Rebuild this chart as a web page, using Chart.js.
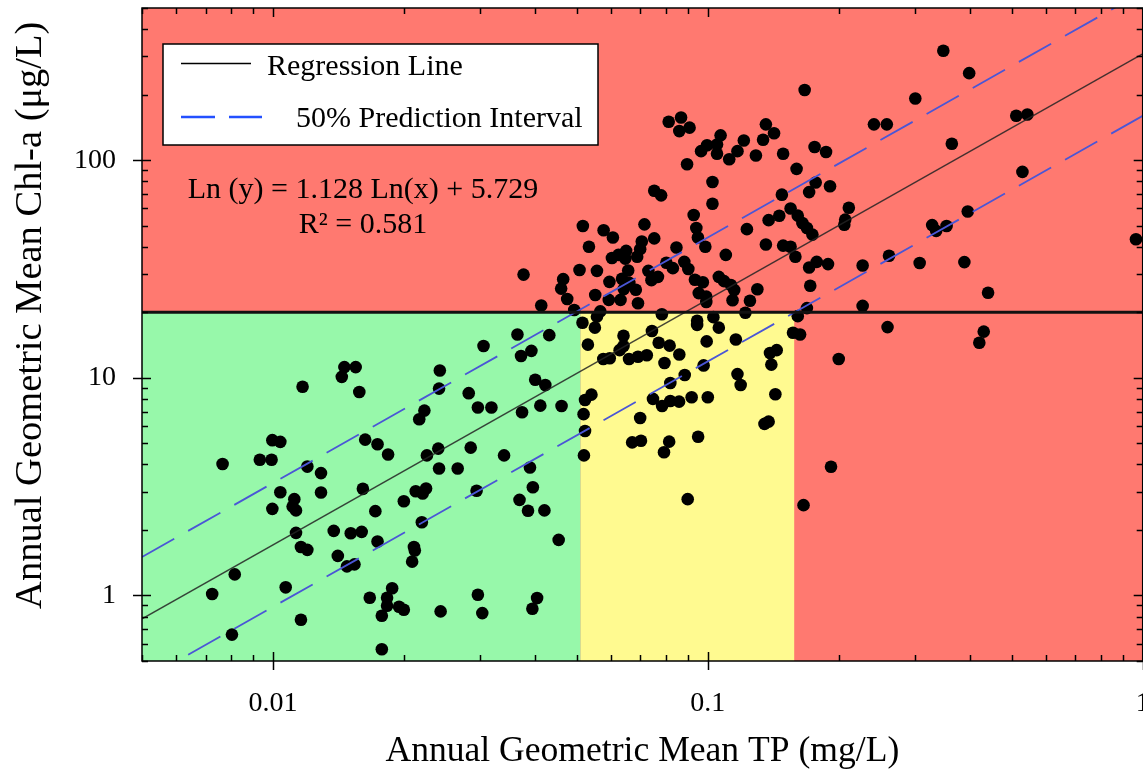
<!DOCTYPE html>
<html>
<head>
<meta charset="utf-8">
<script src="https://cdn.jsdelivr.net/npm/chart.js@4.4.1/dist/chart.umd.min.js"></script>
<style>
  html, body { margin: 0; padding: 0; background: #fff; overflow: hidden; }
  #wrap { width: 1143px; height: 774px; overflow: hidden; }
</style>
</head>
<body>
<div id="wrap"><canvas id="chart" width="1149" height="774"></canvas></div>
<script>
// axis ranges and labelled ticks
const X_MIN = 0.005, X_MAX = 1;
const Y_MIN = 0.5, Y_MAX = 500;
const xTickValues = [0.01, 0.1, 1];
const yTickValues = [1, 10, 100];

// zone limits (TP mg/L, Chl-a ug/L)
const TP_GREEN_MAX = 0.051;
const TP_YELLOW_MAX = 0.158;
const CHL_LIMIT = 20;

// regression: ln(y) = SLOPE ln(x) + INTERCEPT, half width of 50% PI in ln units
const SLOPE = 1.128, INTERCEPT = 5.729, R2 = 0.581;
const PI_HALF = 0.655;

// observations, below 20 ug/L and TP < 0.05
const lowTP = [0.0146, 0.0155, 0.0144, 0.0117, 0.0158, 0.0163, 0.0174, 0.00997, 0.0104, 0.0184,
  0.00766, 0.00933, 0.00993, 0.0120, 0.0129, 0.0104, 0.0129, 0.0161, 0.0112, 0.00997,
  0.0111, 0.0113, 0.0172, 0.0200, 0.0113, 0.0138, 0.0151, 0.0160, 0.0174, 0.0116,
  0.0120, 0.0141, 0.0148, 0.0154, 0.00817, 0.00725, 0.0107, 0.0188, 0.0167, 0.0183,
  0.0183, 0.0195, 0.0178, 0.0116, 0.00805, 0.0178, 0.0200, 0.0243, 0.0296, 0.0303,
  0.0405, 0.0395, 0.0365, 0.0432, 0.0305, 0.0372, 0.0393, 0.0242, 0.0401, 0.0423,
  0.0241, 0.0282, 0.0296, 0.0318, 0.0374, 0.0412, 0.0461, 0.0223, 0.0217, 0.0240,
  0.0226, 0.0285, 0.0340, 0.0241, 0.0266, 0.0390, 0.0396, 0.0213, 0.0225, 0.0221,
  0.0294, 0.0369, 0.0386, 0.0421, 0.0220, 0.0454, 0.0211, 0.0212, 0.0209];
const lowChl = [11.2, 11.2, 10.1, 9.1, 8.6, 5.2, 4.95, 5.17, 5.08, 4.44,
  4.02, 4.2, 4.2, 3.91, 3.65, 2.98, 2.97, 3.09, 2.77, 2.5,
  2.56, 2.46, 2.44, 2.71, 1.94, 1.98, 1.93, 1.96, 1.77, 1.67,
  1.62, 1.52, 1.36, 1.39, 1.25, 1.015, 1.09, 1.08, 0.976, 0.976,
  0.897, 0.888, 0.807, 0.774, 0.661, 0.566, 0.86, 0.845, 1.007, 0.83,
  0.973, 0.869, 15.8, 15.7, 14.0, 12.6, 13.3, 10.8, 9.8, 9.27,
  8.92, 8.5, 7.3, 7.3, 6.95, 7.45, 7.42, 7.07, 6.45, 4.73,
  4.40, 4.78, 4.40, 3.83, 3.83, 3.87, 3.14, 3.01, 3.10, 2.94,
  3.03, 2.75, 2.45, 2.46, 2.17, 1.80, 1.67, 1.61, 1.43];

// observations, below 20 ug/L and TP from 0.05 up
const midTP = [0.0515, 0.0530, 0.0522, 0.0518, 0.0522, 0.0519, 0.0540, 0.0556, 0.0784, 0.0945,
  0.0945, 0.103, 0.122, 0.161, 0.0550, 0.106, 0.157, 0.163, 0.0640, 0.0744,
  0.0771, 0.0817, 0.0994, 0.116, 0.0640, 0.0627, 0.0860, 0.0575, 0.0595, 0.0659,
  0.0691, 0.0724, 0.0795, 0.139, 0.144, 0.140, 0.0978, 0.0885, 0.0820, 0.117,
  0.119, 0.0748, 0.0785, 0.0820, 0.0859, 0.0918, 0.100, 0.143, 0.0699, 0.135,
  0.138, 0.0950, 0.0670, 0.0702, 0.0815, 0.0793, 0.0899, 0.166,
  0.259, 0.431, 0.421, 0.200, 0.192];
const midChl = [17.9, 14.2, 7.91, 6.81, 5.70, 4.40, 8.37, 19.1, 19.6, 18.3,
  17.5, 19.0, 19.9, 19.2, 17.0, 17.0, 16.1, 15.8, 15.6, 16.4,
  14.5, 14.05, 14.7, 15.0, 14.0, 13.4, 12.8, 12.2, 12.3, 12.2,
  12.5, 12.7, 11.7, 13.0, 13.4, 11.5, 11.4, 10.3, 9.47, 10.4,
  9.27, 8.0, 7.42, 7.83, 7.77, 8.14, 8.14, 8.40, 6.54, 6.14,
  6.29, 5.36, 5.05, 5.14, 5.09, 4.55, 2.77, 2.60,
  17.1, 16.3, 14.5, 12.2, 3.90];

// observations above 20 ug/L
const highTP = [0.0493, 0.0566, 0.0414, 0.0475, 0.0592, 0.0630, 0.0691, 0.0992, 0.114, 0.125,
  0.0516, 0.0576, 0.0605, 0.0715, 0.0753, 0.0705, 0.0699, 0.0688, 0.0649, 0.0646,
  0.0623, 0.0602, 0.0533, 0.0847, 0.0883, 0.0902, 0.0507, 0.0556, 0.0656, 0.0730,
  0.0742, 0.0768, 0.0803, 0.0831, 0.0465, 0.0460, 0.0594, 0.0635, 0.0660, 0.0641,
  0.0683, 0.0551, 0.0934, 0.0974, 0.0953, 0.0992, 0.106, 0.109, 0.113, 0.115,
  0.130, 0.1025, 0.0928, 0.0941, 0.0949, 0.0987, 0.123, 0.138, 0.146, 0.148,
  0.155, 0.161, 0.165, 0.169, 0.174, 0.136, 0.149, 0.155, 0.159, 0.110,
  0.171, 0.178, 0.189, 0.172, 0.169, 0.167, 0.0813, 0.0868, 0.0860, 0.0908,
  0.107, 0.105, 0.0996, 0.0965, 0.105, 0.121, 0.117, 0.112, 0.136, 0.142,
  0.134, 0.129, 0.149, 0.176, 0.187, 0.0896, 0.160, 0.1025, 0.0753, 0.0781,
  0.177, 0.171, 0.191, 0.348, 0.399, 0.300, 0.241, 0.258, 0.512, 0.543,
  0.364, 0.529, 0.965, 0.211, 0.207, 0.206, 0.328, 0.335, 0.354, 0.396,
  0.227, 0.261, 0.307, 0.389, 0.441, 0.227, 0.0377];
const highChl = [20.5, 20.2, 21.5, 23.0, 22.8, 22.8, 22.0, 22.3, 22.7, 22.6,
  49.8, 47.6, 44.1, 50.7, 43.7, 42.3, 39.0, 36.0, 38.3, 35.3,
  36.7, 35.5, 40.0, 39.7, 34.1, 31.6, 31.3, 31.0, 31.1, 31.0,
  28.1, 29.1, 33.8, 31.9, 28.4, 25.7, 27.6, 28.5, 27.3, 25.6,
  25.4, 24.0, 28.2, 27.5, 24.5, 23.6, 29.1, 27.8, 26.7, 25.3,
  25.5, 63.0, 56.0, 48.8, 44.1, 40.0, 48.2, 53.0, 55.5, 69.4,
  60.0, 55.6, 51.4, 48.8, 45.5, 41.0, 40.5, 40.0, 36.0, 36.7,
  32.1, 34.1, 33.3, 26.5, 20.9, 210, 150, 157, 136, 141,
  130, 118, 117, 110, 107, 123, 110, 101, 146, 133,
  124, 105, 107, 115, 109, 95.8, 91.2, 79.4, 72.3, 68.9,
  78.9, 71.3, 75.9, 318, 251, 192, 146, 146, 160, 162,
  119, 88.3, 43.3, 60.4, 53.3, 50.5, 50.3, 47.3, 49.8, 58.1,
  32.8, 36.4, 33.7, 34.0, 24.6, 21.4, 29.8];

const SERIF = "'Liberation Serif', 'Times New Roman', serif";
const BLUE = '#4a56d6';

const toPoints = (xs, ys) => xs.map((x, i) => ({ x: x, y: ys[i] }));
const points = [].concat(toPoints(lowTP, lowChl), toPoints(midTP, midChl), toPoints(highTP, highChl));

const lineX = [X_MIN, X_MAX];
const fit = (x, shift) => Math.exp(INTERCEPT + shift + SLOPE * Math.log(x));

// coloured zones behind the data
const zones = {
  id: 'zones',
  beforeDatasetsDraw(chart) {
    const { ctx, chartArea: a, scales: { x, y } } = chart;
    const xg = x.getPixelForValue(TP_GREEN_MAX);
    const xy = x.getPixelForValue(TP_YELLOW_MAX);
    const yl = y.getPixelForValue(CHL_LIMIT);
    ctx.save();
    ctx.fillStyle = '#ff7970';
    ctx.fillRect(a.left, a.top, a.right - a.left, a.bottom - a.top);
    ctx.fillStyle = '#97f8aa';
    ctx.fillRect(a.left, yl, xg - a.left, a.bottom - yl);
    ctx.fillStyle = '#fffa90';
    ctx.fillRect(xg, yl, xy - xg, a.bottom - yl);
    ctx.restore();
  }
};

// box round the plot with log ticks on every side
const frame = {
  id: 'frame',
  afterDatasetsDraw(chart) {
    const { ctx, chartArea: a, scales: { x, y } } = chart;
    ctx.save();
    ctx.strokeStyle = '#000';
    ctx.lineWidth = 1.5;
    ctx.strokeRect(a.left, a.top, a.right - a.left, a.bottom - a.top);
    ctx.beginPath();
    for (let d = 0.001; d < 2; d *= 10) {
      for (let m = 1; m <= 9; m++) {
        const v = m * d;
        if (v < X_MIN * 0.999 || v > X_MAX * 1.001) continue;
        const px = Math.round(x.getPixelForValue(v)) + 0.5;
        const len = m === 1 ? 9 : 6;
        ctx.moveTo(px, a.bottom + (m === 1 ? 9 : 0));
        ctx.lineTo(px, a.bottom - len);
        ctx.moveTo(px, a.top);
        ctx.lineTo(px, a.top + len);
      }
    }
    for (let d = 0.1; d < 1000; d *= 10) {
      for (let m = 1; m <= 9; m++) {
        const v = m * d;
        if (v < Y_MIN * 0.999 || v > Y_MAX * 1.001) continue;
        const py = Math.round(y.getPixelForValue(v)) + 0.5;
        const len = m === 1 ? 9 : 6;
        ctx.moveTo(a.left - (m === 1 ? 9 : 0), py);
        ctx.lineTo(a.left + len, py);
        ctx.moveTo(a.right, py);
        ctx.lineTo(a.right - len, py);
      }
    }
    ctx.stroke();
    ctx.restore();
  }
};

// legend box and fit equation
const notes = {
  id: 'notes',
  afterDraw(chart) {
    const ctx = chart.ctx;
    ctx.save();
    ctx.fillStyle = '#fff';
    ctx.fillRect(163, 44, 435, 101);
    ctx.strokeStyle = '#000';
    ctx.lineWidth = 1.5;
    ctx.strokeRect(163, 44, 435, 101);

    ctx.beginPath();
    ctx.lineWidth = 1.5;
    ctx.moveTo(181, 63.5);
    ctx.lineTo(251, 63.5);
    ctx.stroke();

    ctx.beginPath();
    ctx.strokeStyle = '#2350ff';
    ctx.lineWidth = 2.5;
    ctx.moveTo(181, 117);
    ctx.lineTo(215, 117);
    ctx.moveTo(229, 117);
    ctx.lineTo(262, 117);
    ctx.stroke();

    ctx.fillStyle = '#000';
    ctx.font = '30px ' + SERIF;
    ctx.textBaseline = 'alphabetic';
    ctx.textAlign = 'left';
    ctx.fillText('Regression Line', 267, 75);
    ctx.fillText('50% Prediction Interval', 296, 127);

    ctx.textAlign = 'center';
    ctx.fillText('Ln (y) = ' + SLOPE.toFixed(3) + ' Ln(x) + ' + INTERCEPT.toFixed(3), 363, 198);
    ctx.fillText('R\u00b2 = ' + R2.toFixed(3), 363, 233);
    ctx.restore();
  }
};

const tickFont = { family: SERIF, size: 28 };

new Chart(document.getElementById('chart'), {
  type: 'scatter',
  data: {
    datasets: [
      {
        label: 'Observed',
        data: points,
        pointRadius: 6.3,
        pointBackgroundColor: '#000',
        pointBorderWidth: 0,
        order: 4
      },
      {
        type: 'line',
        label: 'Regression Line',
        data: lineX.map(x => ({ x: x, y: fit(x, 0) })),
        borderColor: 'rgba(35,35,35,0.85)',
        borderWidth: 1.5,
        pointRadius: 0,
        order: 2
      },
      {
        type: 'line',
        label: '50% Prediction Interval',
        data: lineX.map(x => ({ x: x, y: fit(x, PI_HALF) })),
        borderColor: BLUE,
        borderWidth: 1.8,
        borderDash: [37, 16],
        pointRadius: 0,
        order: 2
      },
      {
        type: 'line',
        label: 'lower',
        data: lineX.map(x => ({ x: x, y: fit(x, -PI_HALF) })),
        borderColor: BLUE,
        borderWidth: 1.8,
        borderDash: [37, 16],
        pointRadius: 0,
        order: 2
      },
      {
        type: 'line',
        label: 'limit',
        data: lineX.map(x => ({ x: x, y: CHL_LIMIT })),
        borderColor: '#111',
        borderWidth: 3,
        pointRadius: 0,
        order: 1
      }
    ]
  },
  options: {
    responsive: false,
    animation: false,
    events: [],
    layout: { padding: { top: 8, right: 1, left: 0, bottom: 0 } },
    plugins: { legend: { display: false }, tooltip: { enabled: false } },
    scales: {
      x: {
        type: 'logarithmic',
        min: X_MIN,
        max: X_MAX,
        afterBuildTicks: s => { s.ticks = xTickValues.map(v => ({ value: v })); },
        afterFit: s => { s.height = 113; s.paddingLeft = 0; s.paddingRight = 0; },
        grid: { display: false, drawTicks: false },
        border: { display: false },
        ticks: {
          callback: v => String(v),
          font: tickFont,
          color: '#000',
          padding: 26,
          autoSkip: false,
          maxRotation: 0
        },
        title: {
          display: true,
          text: 'Annual Geometric Mean TP (mg/L)',
          font: { family: SERIF, size: 35.6 },
          color: '#000',
          padding: { top: 0, bottom: 1 }
        }
      },
      y: {
        type: 'logarithmic',
        min: Y_MIN,
        max: Y_MAX,
        afterBuildTicks: s => { s.ticks = yTickValues.map(v => ({ value: v })); },
        afterFit: s => { s.width = 142; s.paddingTop = 0; s.paddingBottom = 0; },
        grid: { display: false, drawTicks: false },
        border: { display: false },
        ticks: {
          callback: v => String(v),
          font: tickFont,
          color: '#000',
          padding: 26,
          autoSkip: false
        },
        title: {
          display: true,
          text: '    Annual Geometric Mean Chl-a (\u03bcg/L)',
          font: { family: SERIF, size: 38.5 },
          color: '#000',
          padding: { top: 8, bottom: 0 }
        }
      }
    }
  },
  plugins: [zones, frame, notes]
});
</script>
</body>
</html>
